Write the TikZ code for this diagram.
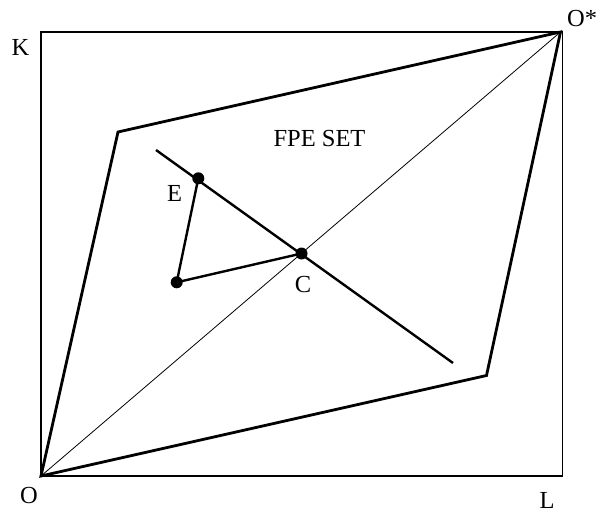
\documentclass[tikz,border=0pt]{standalone}
\usepackage{fontspec}
\setmainfont{Liberation Serif}
\begin{document}
\begin{tikzpicture}[x=1pt,y=-1pt,
  lbl/.style={inner sep=0pt,font=\fontsize{24.5}{28}\selectfont},
  frame/.style={line width=1.2pt},
  thickline/.style={line width=2.8pt,line join=miter},
  thinline/.style={line width=0.8pt},
  dotnode/.style={circle,fill=black,inner sep=0pt,minimum size=12pt}]
\useasboundingbox (0,0) rectangle (605,513);
\coordinate (O) at (41,476);
\coordinate (Os) at (560.5,32);
\coordinate (TL) at (41,32);
\coordinate (TR) at (562.5,32);
\coordinate (BR) at (562.5,476);
\coordinate (P1) at (118,132);
\coordinate (P2) at (486.5,375.5);
\coordinate (S1) at (156,150);
\coordinate (S2) at (453,363);
\node[dotnode] (E) at (198.3,178.3) {};
\node[dotnode] (D) at (176.7,282.3) {};
\node[dotnode] (C) at (301.5,253.5) {};
% frame
\draw[frame] (TL) -- (TR) -- (BR) -- (O) -- cycle;
% diagonal
\draw[thinline] (O) -- (Os);
% FPE set
\draw[thickline] (O) -- (P1) -- (Os) -- (P2) -- cycle;
% line through E and C
\draw[thickline,line width=2.4pt] (S1) -- (S2);
\draw[thickline,line width=2.4pt] (E.center) -- (D.center) -- (C.center);
% labels
\node[lbl,anchor=base] (K) at (20.5,56) {K};
\node[lbl,anchor=base west] (Olab) at (567,27) {O*};
\node[lbl,anchor=base] (Olab2) at (29,503) {O};
\node[lbl,anchor=base] (L) at (547,508) {L};
\node[lbl,anchor=base] (Elab) at (174.5,202) {E};
\node[lbl,anchor=base] (Clab) at (303,292) {C};
\node[lbl,anchor=base] (fpe) at (319.5,146.7) {FPE SET};
\end{tikzpicture}
\end{document}
